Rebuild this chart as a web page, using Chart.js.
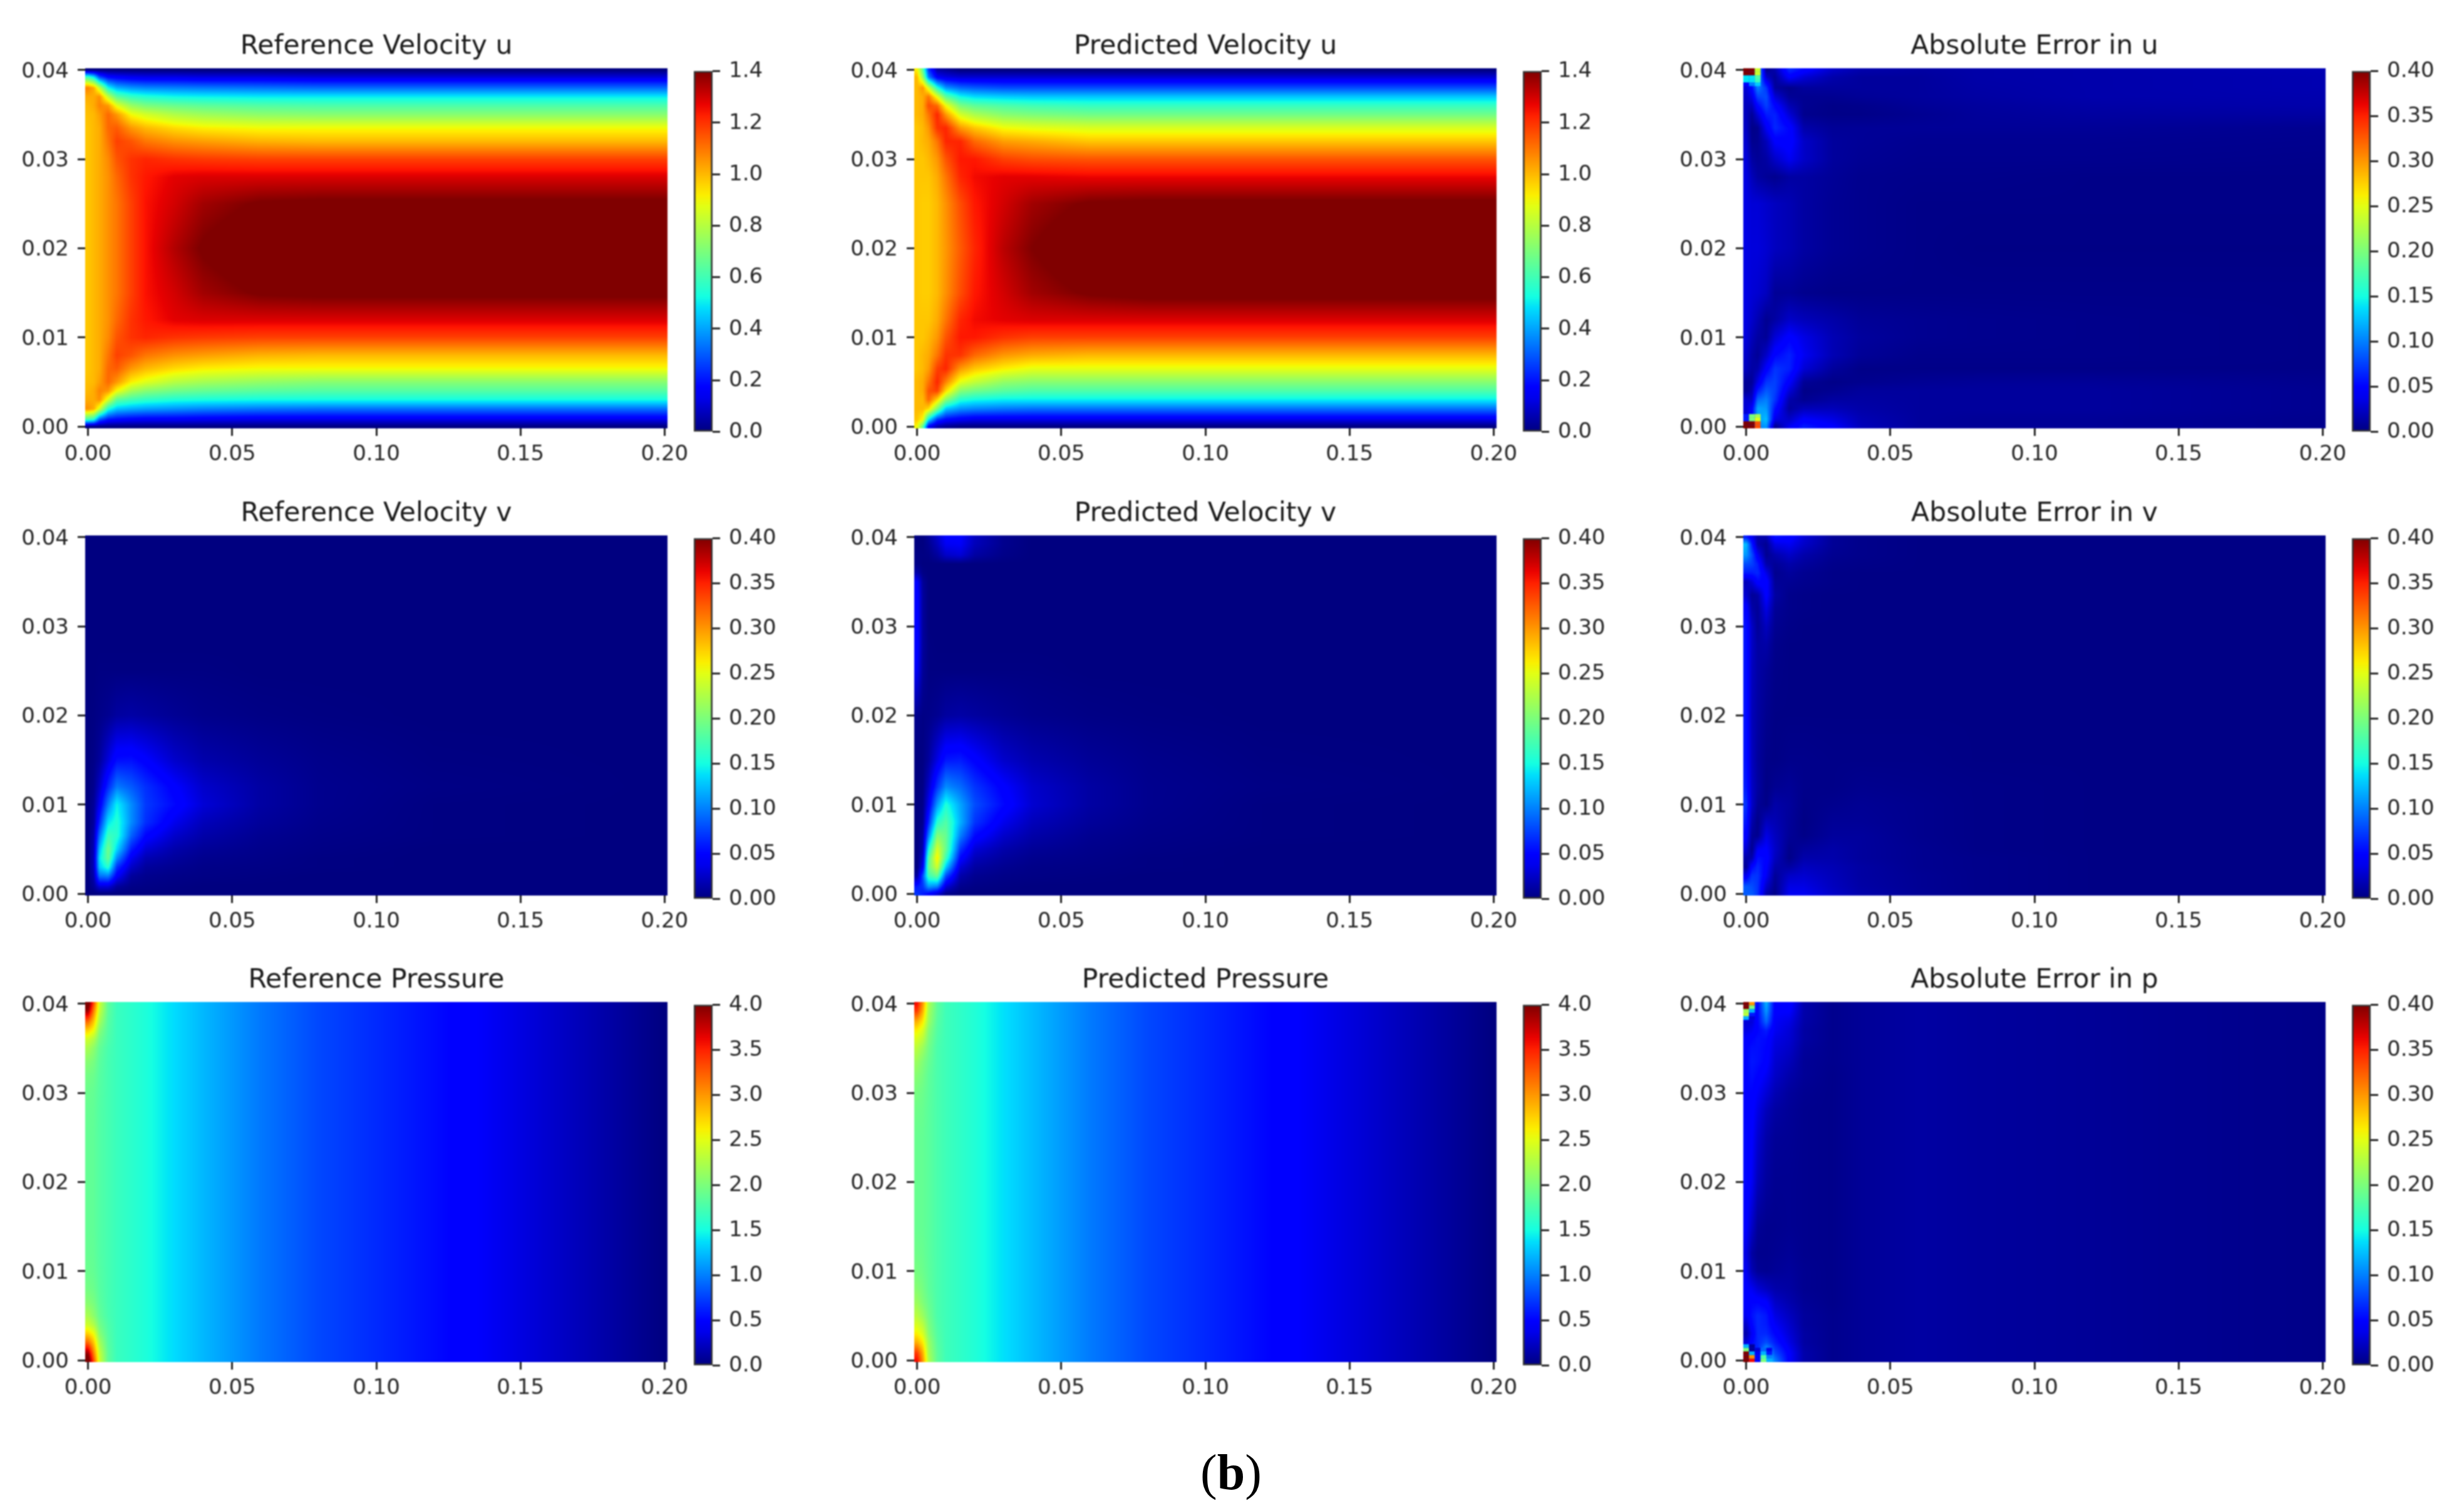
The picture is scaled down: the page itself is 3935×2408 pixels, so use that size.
<!DOCTYPE html>
<html><head><meta charset="utf-8">
<script src="https://cdn.jsdelivr.net/npm/chart.js@4/dist/chart.umd.min.js"></script>
<style>
html,body{margin:0;padding:0;background:#fff;width:3935px;height:2408px;overflow:hidden}
canvas{position:absolute;filter:blur(1.1px)}
#cap{position:absolute;left:1966px;top:2306px;transform:translateX(-50%);font:80px 'Liberation Serif',serif;color:#000;line-height:normal}
</style></head><body>
<div id="cap">(<b>b</b>)</div>
<script>
const xGrid=[0,.002,.004,.007,.01,.015,.02,.03,.04,.06,.08,.12,.2];
const yGrid=[0,.0008,.002,.003,.004,.005,.0065,.008,.01,.012,.015,.02,.025,.028,.03,.032,.0335,.035,.036,.037,.038,.0392,.04];
const xTicks=[0,.05,.1,.15,.2];
const yTicks=[0,.01,.02,.03,.04];
const uTicks=[0,.2,.4,.6,.8,1,1.2,1.4];
const vTicks=[0,.05,.1,.15,.2,.25,.3,.35,.4];
const pTicks=[0,.5,1,1.5,2,2.5,3,3.5,4];
// field values: u and p in hundredths, v and errors in thousandths; rows run from y=0 to y=0.04
const uRef=[
[0,0,0,0,0,0,0,0,0,0,0,0,0],
[60,55,30,20,18,16,15,15,14,13,13,13,13],
[106,102,85,55,45,42,40,38,36,34,33,33,33],
[102,102,106,85,65,60,57,54,53,52,52,52,52],
[100,102,108,105,90,77,72,68,66,64,63,63,63],
[99,100,104,112,105,92,87,80,77,74,72,72,72],
[98,100,102,112,114,105,100,95,92,90,90,90,90],
[98,100,102,110,118,115,110,106,104,101,100,100,100],
[98,100,102,107,115,120,122,120,119,118,118,118,118],
[98,100,102,106,112,120,124,128,129,129,129,129,129],
[98,100,102,106,110,118,125,130,136,141,142,142,142],
[98,100,102,106,110,118,125,134,141,148,150,151,152],
[98,100,102,106,110,118,125,130,136,141,142,142,142],
[98,100,102,106,112,120,124,128,129,129,129,129,129],
[98,100,102,107,115,120,122,120,119,118,118,118,118],
[98,100,102,110,118,115,110,106,104,101,100,100,100],
[98,100,102,112,114,105,100,95,92,90,90,90,90],
[99,100,104,112,105,90,85,79,76,73,72,72,72],
[100,102,108,105,88,75,70,67,65,63,62,62,62],
[102,102,106,82,65,58,55,52,51,50,50,50,50],
[108,102,82,52,42,38,36,35,34,33,32,32,32],
[60,50,28,18,16,14,13,13,12,12,11,11,11],
[0,0,0,0,0,0,0,0,0,0,0,0,0]];
const uPred=[
[90,65,15,5,2,0,0,0,0,0,0,0,0],
[98,90,50,25,18,15,13,13,13,13,13,13,13],
[100,100,95,70,45,38,36,34,33,33,33,33,33],
[100,100,112,95,72,55,52,50,50,50,50,50,50],
[100,102,115,118,95,72,68,64,62,62,62,62,62],
[100,102,110,122,108,88,82,74,72,72,72,72,72],
[98,100,104,118,122,105,98,92,88,88,88,88,88],
[98,100,102,110,120,120,112,105,102,100,100,100,100],
[98,98,100,105,115,124,124,120,118,118,118,118,118],
[98,98,98,102,110,122,126,128,129,129,129,129,129],
[98,97,97,100,106,116,124,130,136,141,143,143,143],
[98,97,97,100,105,114,122,133,140,148,151,152,152],
[98,97,97,100,106,116,124,130,136,141,142,142,142],
[98,98,98,102,110,122,126,128,128,127,127,127,127],
[98,98,100,105,115,124,124,118,116,115,115,115,115],
[98,100,102,110,122,122,112,104,102,98,98,98,98],
[98,100,105,120,122,105,98,90,88,86,86,86,86],
[100,102,110,122,105,85,78,72,70,68,68,68,68],
[100,102,116,112,90,70,65,62,60,58,58,58,58],
[100,102,110,88,65,52,48,46,45,45,45,45,45],
[100,105,85,55,38,32,30,28,28,28,28,28,28],
[100,75,35,15,12,10,10,10,10,10,10,10,10],
[92,65,25,5,3,0,0,0,0,0,0,0,0]];
const uErr=[
[40,60,100,110,5,40,60,45,20,10,8,8,5],
[30,50,110,125,35,25,45,35,18,10,8,8,5],
[30,45,115,110,55,10,20,20,14,10,10,10,6],
[28,25,90,100,70,15,6,12,12,10,10,10,6],
[8,15,60,85,75,30,3,6,10,10,10,10,6],
[8,8,35,70,75,45,8,3,5,7,8,8,5],
[22,12,15,45,70,62,30,10,3,3,3,3,3],
[26,14,8,25,50,62,40,18,8,4,4,4,3],
[32,20,12,8,30,48,35,18,10,6,5,4,3],
[34,26,18,6,12,25,20,14,8,6,5,4,3],
[35,30,28,22,8,8,5,3,3,3,3,3,3],
[35,32,32,28,22,18,12,7,5,3,2,2,2],
[35,30,30,26,22,18,12,7,5,3,3,3,3],
[34,20,12,8,5,12,12,8,5,4,4,3,3],
[32,12,8,12,25,40,25,10,7,5,5,5,4],
[28,5,6,20,45,50,25,10,8,6,6,6,5],
[24,3,5,40,65,50,15,8,8,8,8,8,6],
[22,8,30,60,62,30,5,3,3,6,9,11,12],
[22,20,50,75,50,18,6,3,4,8,10,13,15],
[25,35,75,80,30,8,6,6,8,10,12,15,16],
[30,50,100,70,10,4,10,10,10,10,13,15,17],
[35,70,120,25,8,45,30,15,10,10,14,15,17],
[40,80,130,5,15,65,50,25,15,12,14,15,18]];
const vRef=[
[0,0,0,0,0,0,0,0,0,0,0,0,0],
[0,8,30,30,10,3,2,1,0,0,0,0,0],
[0,15,95,100,45,10,5,3,2,1,0,0,0],
[0,20,130,160,70,25,10,6,3,2,1,0,0],
[0,20,140,190,105,40,18,10,5,3,1,0,0],
[0,18,125,195,135,60,30,15,8,4,2,0,0],
[0,15,95,170,160,88,50,26,14,6,3,1,0],
[0,10,65,140,158,105,68,38,20,9,4,1,0],
[0,8,40,100,145,105,72,52,30,12,5,1,0],
[0,5,25,65,98,85,68,46,26,12,5,2,0],
[0,3,10,32,54,55,46,26,15,8,4,1,0],
[0,1,3,6,11,13,11,7,4,2,1,0,0],
[0,0,1,1,1,1,1,1,1,0,0,0,0],
[0,0,0,0,0,0,0,0,0,0,0,0,0],
[0,0,0,0,0,0,0,0,0,0,0,0,0],
[0,0,0,0,0,0,0,0,0,0,0,0,0],
[0,0,0,0,0,0,0,0,0,0,0,0,0],
[0,0,0,0,0,0,0,0,0,0,0,0,0],
[0,0,0,0,0,0,0,0,0,0,0,0,0],
[0,0,0,0,0,0,0,0,0,0,0,0,0],
[0,0,0,0,0,0,0,0,0,0,0,0,0],
[0,0,0,0,0,0,0,0,0,0,0,0,0],
[0,0,0,0,0,0,0,0,0,0,0,0,0]];
const vPred=[
[70,60,50,30,5,0,0,0,0,0,0,0,0],
[60,70,110,100,30,5,2,1,0,0,0,0,0],
[10,80,170,190,80,15,6,3,2,1,0,0,0],
[0,40,190,240,130,30,12,6,3,2,1,0,0],
[0,25,180,265,170,50,20,10,5,3,1,0,0],
[0,15,150,245,190,70,30,15,8,4,2,0,0],
[0,10,100,205,190,100,52,26,14,6,3,1,0],
[0,5,65,160,180,120,70,38,20,9,4,1,0],
[0,3,40,110,155,115,80,52,28,12,5,1,0],
[0,2,25,70,105,92,70,46,26,12,5,2,0],
[0,1,10,35,58,60,48,26,16,8,4,1,0],
[5,2,3,6,11,13,11,7,4,2,1,0,0],
[40,8,1,1,1,1,1,1,1,0,0,0,0],
[50,10,1,0,0,0,0,0,0,0,0,0,0],
[50,10,0,0,0,0,0,0,0,0,0,0,0],
[50,10,0,0,0,0,0,0,0,0,0,0,0],
[50,10,0,0,0,0,0,0,0,0,0,0,0],
[45,8,0,0,0,0,0,0,0,0,0,0,0],
[15,2,0,0,0,0,0,0,0,0,0,0,0],
[3,0,0,0,0,0,0,0,0,0,0,0,0],
[2,1,2,10,25,30,12,3,0,0,0,0,0],
[0,0,5,20,40,42,20,5,0,0,0,0,0],
[0,0,8,25,45,45,22,5,0,0,0,0,0]];
const vErr=[
[85,85,70,15,3,40,40,25,15,8,4,2,2],
[85,80,70,25,5,35,35,22,13,7,4,2,2],
[40,70,70,40,8,25,28,20,12,7,4,2,2],
[8,50,65,45,15,12,22,18,12,6,4,2,2],
[15,15,55,50,22,3,15,15,10,6,4,2,2],
[30,5,40,45,25,4,10,14,10,6,3,2,2],
[48,8,5,35,22,8,3,10,10,5,3,2,2],
[58,15,3,22,18,9,2,8,8,5,3,2,2],
[70,25,8,3,14,10,3,5,7,5,3,2,2],
[60,24,12,2,6,8,4,3,5,4,3,2,2],
[56,22,10,3,2,4,4,3,3,3,2,2,2],
[56,20,12,5,2,2,2,2,2,2,2,2,2],
[56,22,13,8,3,2,2,2,2,2,2,2,2],
[56,24,12,14,4,2,2,2,2,2,2,2,2],
[56,24,8,22,6,3,2,2,2,2,2,2,2],
[50,14,8,35,8,4,3,2,2,2,2,2,2],
[28,8,12,48,12,4,3,2,2,2,2,2,2],
[20,30,50,50,8,7,5,3,2,2,2,2,2],
[60,60,65,35,5,10,6,3,2,2,2,2,2],
[80,75,60,15,8,15,10,4,3,2,2,2,2],
[110,80,40,6,15,25,15,6,4,2,2,2,2],
[125,60,15,6,35,40,25,8,4,2,2,2,2],
[60,40,15,15,55,50,30,8,4,2,2,2,2]];
const pRef=[
[420,330,240,185,168,161,154,136,122,97,78,54,0],
[390,310,235,185,168,161,154,136,122,97,78,54,0],
[320,280,220,182,168,161,154,136,122,97,78,54,0],
[275,255,205,180,168,161,154,136,122,97,78,54,0],
[240,225,195,178,168,161,154,136,122,97,78,54,0],
[222,208,188,175,168,161,154,136,122,97,78,54,0],
[205,198,184,174,168,161,154,136,122,97,78,54,0],
[196,192,182,174,168,161,154,136,122,97,78,54,0],
[191,188,181,174,168,161,154,136,122,97,78,54,0],
[189,187,180,174,168,161,154,136,122,97,78,54,0],
[188,186,180,174,168,161,154,136,122,97,78,54,0],
[188,186,180,174,168,161,154,136,122,97,78,54,0],
[188,186,180,174,168,161,154,136,122,97,78,54,0],
[189,187,180,174,168,161,154,136,122,97,78,54,0],
[191,188,181,174,168,161,154,136,122,97,78,54,0],
[196,192,182,174,168,161,154,136,122,97,78,54,0],
[205,198,184,174,168,161,154,136,122,97,78,54,0],
[222,208,188,175,168,161,154,136,122,97,78,54,0],
[240,225,195,178,168,161,154,136,122,97,78,54,0],
[275,255,205,180,168,161,154,136,122,97,78,54,0],
[320,280,220,182,168,161,154,136,122,97,78,54,0],
[390,310,235,185,168,161,154,136,122,97,78,54,0],
[420,330,240,185,168,161,154,136,122,97,78,54,0]];
const pPred=[
[360,300,225,185,170,163,156,138,124,98,78,52,0],
[340,290,220,185,170,163,156,138,124,98,78,52,0],
[290,265,215,182,170,163,156,138,124,98,78,52,0],
[262,245,205,180,170,163,156,138,124,98,78,52,0],
[245,230,200,178,170,163,156,138,124,98,78,52,0],
[230,215,195,176,170,163,156,138,124,98,78,52,0],
[215,202,190,176,170,163,156,138,124,98,78,52,0],
[205,197,186,176,170,163,156,138,124,98,78,52,0],
[197,192,185,176,170,163,156,138,124,98,78,52,0],
[193,190,184,176,170,163,156,138,124,98,78,52,0],
[190,188,184,176,170,163,156,138,124,98,78,52,0],
[190,188,184,176,170,163,156,138,124,98,78,52,0],
[190,188,184,176,170,163,156,138,124,98,78,52,0],
[193,190,184,176,170,163,156,138,124,98,78,52,0],
[197,192,185,176,170,163,156,138,124,98,78,52,0],
[205,197,186,176,170,163,156,138,124,98,78,52,0],
[215,202,190,176,170,163,156,138,124,98,78,52,0],
[230,215,195,176,170,163,156,138,124,98,78,52,0],
[245,230,200,178,170,163,156,138,124,98,78,52,0],
[262,245,205,180,170,163,156,138,124,98,78,52,0],
[290,265,215,182,170,163,156,138,124,98,78,52,0],
[340,290,220,185,170,163,156,138,124,98,78,52,0],
[360,300,225,185,170,163,156,138,124,98,78,52,0]];
const pErr=[
[70,100,60,150,100,45,15,5,8,12,10,8,3],
[60,80,60,130,80,45,15,5,8,12,10,8,3],
[30,50,65,80,60,35,12,5,8,12,10,8,3],
[15,40,65,65,50,30,12,5,8,12,10,8,3],
[25,50,65,60,42,26,10,5,8,12,10,8,3],
[40,55,65,58,35,22,10,5,8,12,10,8,3],
[45,50,50,45,25,16,8,4,8,12,10,8,3],
[45,40,30,22,15,12,6,4,8,12,10,8,3],
[40,18,8,6,8,10,6,4,8,12,10,8,3],
[35,12,5,5,6,8,5,4,8,12,10,8,3],
[45,25,8,5,5,6,5,4,8,12,10,8,3],
[52,40,20,10,6,6,5,4,8,12,10,8,3],
[52,45,28,14,8,7,5,4,8,12,10,8,3],
[50,48,35,20,12,8,5,4,8,12,10,8,3],
[50,50,42,30,18,10,6,4,8,12,10,8,3],
[50,55,50,40,25,15,8,4,8,12,10,8,3],
[50,58,55,48,28,20,8,5,8,12,10,8,3],
[50,55,55,50,32,25,10,5,8,12,10,8,3],
[45,50,55,52,35,28,12,5,8,12,10,8,3],
[35,40,50,60,40,30,12,5,8,12,10,8,3],
[30,30,50,90,42,35,14,5,8,12,10,8,3],
[100,60,50,110,45,45,15,5,8,12,10,8,3],
[100,80,50,120,45,50,15,5,8,12,10,8,3]];
// discrete cells at the inlet corners of the error maps (thousandths), first row at the wall
const uErrTop=[[500,500,240],[500,500,240],[140,140,180],[140,140,170],[50,100,130]];
const uErrBottom=[[500,500,330],[500,500,330],[60,200,250],[60,200,220]];
const pErrTop=[[500,300],[500,200],[220,120],[230,60],[120,30]];
const pErrBottom=[[500,360,50,200,120],[500,300,50,180,100],[500,120,40,120,60],[200,10,30,90,40],[120,10]];

const plotW=930,plotH=575,axisW=136,titleH=59,axisB=90;
const colLeft=[136,1460,2784], rowTop=[109,855,1600], barLeft=[1108,2432,3756], barW=30;
const cellW=.002,cellH=.0004;
const panels=[
 {t:'Reference Velocity u',rows:uRef,s:100,vmax:1.4,ticks:uTicks,dp:1},
 {t:'Predicted Velocity u',rows:uPred,s:100,vmax:1.4,ticks:uTicks,dp:1},
 {t:'Absolute Error in u',rows:uErr,s:1000,vmax:.4,ticks:vTicks,dp:2,top:uErrTop,bot:uErrBottom},
 {t:'Reference Velocity v',rows:vRef,s:1000,vmax:.4,ticks:vTicks,dp:2},
 {t:'Predicted Velocity v',rows:vPred,s:1000,vmax:.4,ticks:vTicks,dp:2},
 {t:'Absolute Error in v',rows:vErr,s:1000,vmax:.4,ticks:vTicks,dp:2},
 {t:'Reference Pressure',rows:pRef,s:100,vmax:4,ticks:pTicks,dp:1},
 {t:'Predicted Pressure',rows:pPred,s:100,vmax:4,ticks:pTicks,dp:1},
 {t:'Absolute Error in p',rows:pErr,s:1000,vmax:.4,ticks:vTicks,dp:2,top:pErrTop,bot:pErrBottom}
];

function ramp(t,pts){for(let i=1;i<pts.length;i++){if(t<=pts[i][0]){const a=pts[i-1],b=pts[i];return a[1]+(b[1]-a[1])*(t-a[0])/(b[0]-a[0]);}}return pts[pts.length-1][1];}
const R=[[0,0],[.35,0],[.66,1],[.89,1],[1,.5]],G=[[0,0],[.125,0],[.375,1],[.64,1],[.91,0],[1,0]],B=[[0,.5],[.11,1],[.34,1],[.65,0],[1,0]];
function jet(t){t=Math.max(0,Math.min(1,t));return [ramp(t,R)*255,ramp(t,G)*255,ramp(t,B)*255];}

const heatPlugin={id:'heat',
 afterLayout(chart){const a=chart.chartArea,t=chart.titleBlock;if(t&&a){t.left=a.left;t.right=a.right;}},
 beforeDatasetsDraw(chart){
  const o=chart.options.plugins.heat; if(!o||!o.vmax)return;
  const a=chart.chartArea,sx=chart.scales.x,sy=chart.scales.y,ctx=chart.ctx;
  const pts=chart.data.datasets[0].data,xs=[...new Set(pts.map(p=>p.x))],ys=[...new Set(pts.map(p=>p.y))],nx=xs.length;
  const W=Math.round(a.right-a.left),H=Math.round(a.bottom-a.top);
  const cv=document.createElement('canvas');cv.width=W;cv.height=H;
  const c2=cv.getContext('2d'),im=c2.createImageData(W,H),d=im.data;
  const locate=(arr,v)=>{v=Math.max(arr[0],Math.min(arr[arr.length-1],v));let i=0;while(i<arr.length-2&&v>arr[i+1])i++;return [i,(v-arr[i])/(arr[i+1]-arr[i])];};
  const cols=[];for(let i=0;i<W;i++)cols.push(locate(xs,sx.getValueForPixel(a.left+i+.5)));
  for(let j=0;j<H;j++){
    const [r,fy]=locate(ys,sy.getValueForPixel(a.top+j+.5));
    for(let i=0;i<W;i++){
      const [q,fx]=cols[i];
      const v00=pts[r*nx+q].v,v01=pts[r*nx+q+1].v,v10=pts[(r+1)*nx+q].v,v11=pts[(r+1)*nx+q+1].v;
      const v=(v00*(1-fx)+v01*fx)*(1-fy)+(v10*(1-fx)+v11*fx)*fy;
      const c=jet(v/o.vmax),k=(j*W+i)*4;d[k]=c[0];d[k+1]=c[1];d[k+2]=c[2];d[k+3]=255;
    }
  }
  c2.putImageData(im,0,0);ctx.drawImage(cv,a.left,a.top);
  const cells=chart.data.datasets[1]?chart.data.datasets[1].data:[];
  for(const p of cells){
    const x0=sx.getPixelForValue(p.x-cellW/2),x1=sx.getPixelForValue(p.x+cellW/2),y0=sy.getPixelForValue(p.y+cellH/2),y1=sy.getPixelForValue(p.y-cellH/2);
    const c=jet(p.v/o.vmax);ctx.fillStyle=`rgb(${c[0]|0},${c[1]|0},${c[2]|0})`;
    ctx.fillRect(x0,y0,x1-x0,y1-y0);
  }
}};

const tickFont={family:"'DejaVu Sans'",size:34};
const tickColor='#262626';
function mkCanvas(l,t,w,h){const c=document.createElement('canvas');c.width=w;c.height=h;c.style.left=l+'px';c.style.top=t+'px';c.style.width=w+'px';c.style.height=h+'px';document.body.appendChild(c);return c;}
function tickGrid(){return {drawOnChartArea:false,drawTicks:true,tickLength:12,tickWidth:3,tickColor:'#222'};}

panels.forEach((p,n)=>{
  const cx=n%3,ry=Math.floor(n/3);
  const main=[];yGrid.forEach((y,j)=>xGrid.forEach((x,i)=>main.push({x,y,v:p.rows[j][i]/p.s})));
  const cells=[];
  (p.top||[]).forEach((row,r)=>row.forEach((v,c)=>cells.push({x:c*cellW,y:.04-r*cellH,v:v/p.s})));
  (p.bot||[]).forEach((row,r)=>row.forEach((v,c)=>cells.push({x:c*cellW,y:r*cellH,v:v/p.s})));
  const cv=mkCanvas(colLeft[cx]-axisW,rowTop[ry]-titleH,axisW*2+plotW,titleH+plotH+axisB);
  new Chart(cv,{type:'scatter',plugins:[heatPlugin],
    data:{datasets:[{label:p.t,data:main,pointRadius:0,showLine:false},{label:p.t+' corner cells',data:cells,pointRadius:0,showLine:false}]},
    options:{responsive:false,animation:false,devicePixelRatio:1,
      layout:{padding:{left:0,right:axisW,top:0,bottom:0}},
      plugins:{legend:{display:false},tooltip:{enabled:false},heat:{vmax:p.vmax},
        title:{display:true,text:p.t,color:'#1a1a1a',font:{family:"'DejaVu Sans'",size:42.5,weight:'normal',lineHeight:50/42.5},padding:{top:0,bottom:9}}},
      scales:{
        x:{type:'linear',min:-.001,max:.201,afterBuildTicks:s=>{s.ticks=xTicks.map(value=>({value}));},afterFit:s=>{s.height=axisB;},
          grid:tickGrid(),border:{display:false},ticks:{font:tickFont,color:tickColor,padding:10,maxRotation:0,autoSkip:false,callback:v=>Number(v).toFixed(2)}},
        y:{type:'linear',min:-.0002,max:.0402,afterBuildTicks:s=>{s.ticks=yTicks.map(value=>({value}));},afterFit:s=>{s.width=axisW;},
          grid:tickGrid(),border:{display:false},ticks:{font:tickFont,color:tickColor,padding:14,labelOffset:3,autoSkip:false,callback:v=>Number(v).toFixed(2)}}
      }}});
  // colour bar
  const pad=30,padB=40,padL=5;
  const cb=mkCanvas(barLeft[cx]-padL,rowTop[ry]-pad,padL+barW+130,plotH+pad+padB);
  new Chart(cb,{type:'bar',
    data:{labels:[''],datasets:[{label:p.t+' scale',data:[[0,p.vmax]],barPercentage:1,categoryPercentage:1,borderWidth:3,borderColor:'#333',borderSkipped:false,
      backgroundColor:ctx=>{const a=ctx.chart.chartArea;if(!a)return '#000';const g=ctx.chart.ctx.createLinearGradient(0,a.bottom,0,a.top);for(let i=0;i<=32;i++){const c=jet(i/32);g.addColorStop(i/32,`rgb(${c[0]|0},${c[1]|0},${c[2]|0})`);}return g;}}]},
    options:{responsive:false,animation:false,devicePixelRatio:1,
      layout:{padding:{left:padL,right:0,top:pad,bottom:0}},
      plugins:{legend:{display:false},tooltip:{enabled:false}},
      scales:{
        x:{display:false,ticks:{display:false},afterFit:s=>{s.height=0;}},
        y:{position:'right',min:0,max:p.vmax,afterBuildTicks:s=>{s.ticks=p.ticks.map(value=>({value}));},afterFit:s=>{s.width=130;},
          grid:tickGrid(),border:{display:false},ticks:{font:tickFont,color:tickColor,padding:14,labelOffset:1,autoSkip:false,callback:v=>Number(v).toFixed(p.dp)}}
      }}});
});
</script>
</body></html>
